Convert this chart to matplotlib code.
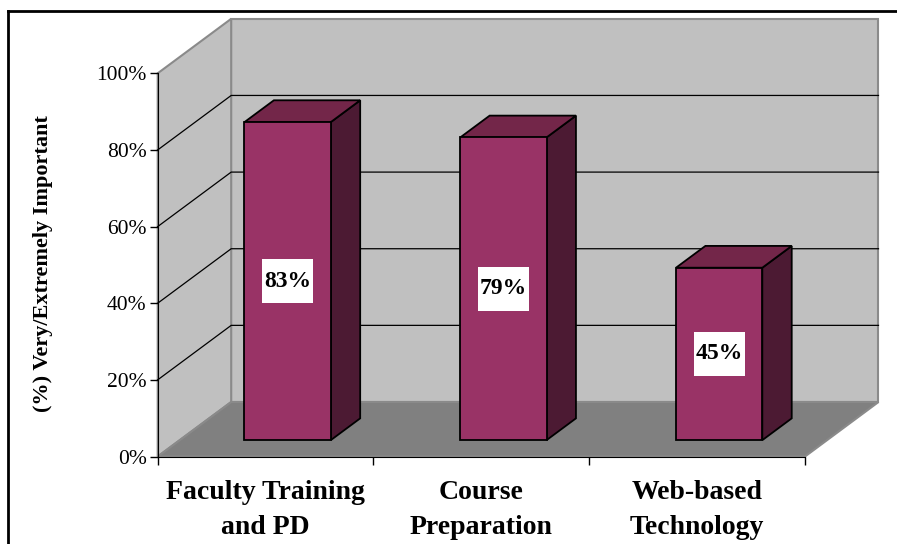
import matplotlib.pyplot as plt
import matplotlib.transforms as mtransforms
from matplotlib.patches import Polygon, Rectangle
from matplotlib.lines import Line2D

# Dados do grafico
categorias = ["Faculty Training\nand PD", "Course\nPreparation", "Web-based\nTechnology"]
valores = [0.83, 0.79, 0.45]
rotulos = ["83%", "79%", "45%"]
ticks_y = [0.0, 0.2, 0.4, 0.6, 0.8, 1.0]
ticks_y_txt = ["0%", "20%", "40%", "60%", "80%", "100%"]
titulo_y = "(%) Very/Extremely Important"

plt.rcParams['font.family'] = ['Liberation Serif', 'DejaVu Serif']

# Cores (estilo Excel 3D)
cor_frente = '#993366'
cor_topo = '#732649'
cor_lado = '#4C1A33'
cor_parede = '#C0C0C0'
cor_chao = '#808080'
cor_borda = '#8A8A8A'

# Deslocamento de profundidade (unidades de dados)
ddx = 0.3406
ddy = 0.1422
larg = 0.40       # largura da barra
d0, dd = 0.30, 0.40  # posicao/profundidade da barra

W, H = 897, 544
fig = plt.figure(figsize=(W / 100, H / 100), dpi=100)
ax = fig.add_axes([157.7 / W, (H - 456.5) / H, (805 - 157.7) / W, 383.2 / H])
ax.set_xlim(0, 3)
ax.set_ylim(0, 1)
ax.patch.set_visible(False)

n = len(valores)

# Paredes e chao
parede_fundo = Polygon([(ddx, ddy), (n + ddx, ddy), (n + ddx, 1 + ddy), (ddx, 1 + ddy)],
                       closed=True, fc=cor_parede, ec=cor_borda, lw=1.5, clip_on=False, zorder=1)
parede_esq = Polygon([(0, 0), (ddx, ddy), (ddx, 1 + ddy), (0, 1)],
                     closed=True, fc=cor_parede, ec=cor_borda, lw=1.5, clip_on=False, zorder=1)
chao = Polygon([(0, 0), (n, 0), (n + ddx, ddy), (ddx, ddy)],
               closed=True, fc=cor_chao, ec=cor_borda, lw=1.5, clip_on=False, zorder=1)
for p in (parede_fundo, parede_esq, chao):
    ax.add_patch(p)

# Linhas de grade
for g in ticks_y[1:-1]:
    ax.plot([0, ddx, n + ddx], [g, g + ddy, g + ddy], color='black', lw=0.9,
            clip_on=False, zorder=2)

# Barras 3D
for i, v in enumerate(valores):
    x0 = i + (1 - larg) / 2 + d0 * ddx
    y0 = d0 * ddy
    ox, oy = dd * ddx, dd * ddy
    frente = Polygon([(x0, y0), (x0 + larg, y0), (x0 + larg, y0 + v), (x0, y0 + v)],
                     closed=True, fc=cor_frente, ec='black', lw=1.3, clip_on=False, zorder=4)
    topo = Polygon([(x0, y0 + v), (x0 + larg, y0 + v), (x0 + larg + ox, y0 + v + oy), (x0 + ox, y0 + v + oy)],
                   closed=True, fc=cor_topo, ec='black', lw=1.3, clip_on=False, zorder=3)
    lado = Polygon([(x0 + larg, y0), (x0 + larg + ox, y0 + oy), (x0 + larg + ox, y0 + v + oy), (x0 + larg, y0 + v)],
                   closed=True, fc=cor_lado, ec='black', lw=1.3, clip_on=False, zorder=3)
    for p in (lado, topo, frente):
        ax.add_patch(p)

    # caixa branca do rotulo (tamanho fixo em polegadas)
    xc, yc = x0 + larg / 2, y0 + v / 2
    trans = fig.dpi_scale_trans + mtransforms.ScaledTranslation(xc, yc, ax.transData)
    ax.add_patch(Rectangle((-0.255, -0.22), 0.51, 0.44, transform=trans,
                           fc='white', ec='none', zorder=5, clip_on=False))
    ax.text(xc, yc, rotulos[i], ha='center', va='center',
            fontsize=17, fontweight='bold', zorder=6)

# Eixos
for lado_sp in ('top', 'right'):
    ax.spines[lado_sp].set_visible(False)
ax.spines['left'].set_color('black')
ax.spines['bottom'].set_color('black')
ax.spines['left'].set_zorder(7)
ax.spines['bottom'].set_zorder(7)

ax.set_yticks(ticks_y)
ax.set_yticklabels(ticks_y_txt, fontsize=15.5)
ax.tick_params(axis='y', direction='out', length=5.5, width=1, pad=2.5)

ax.set_xticks(range(n + 1))
ax.set_xticklabels([])
ax.set_xticks([i + 0.5 for i in range(n)], minor=True)
ax.set_xticklabels(categorias, minor=True, fontsize=20, fontweight='bold', linespacing=1.5)
ax.tick_params(axis='x', which='minor', length=0, pad=17)
ax.tick_params(axis='x', which='major', direction='out', length=5.5, width=1)

fig.text(43 / W, 1 - 264 / H, titulo_y, rotation=90, ha='center', va='center',
         fontsize=16, fontweight='bold')

# Moldura externa
fig.add_artist(Line2D([8 / W, 8 / W], [0, 1 - 11 / H], color='black', lw=2))
fig.add_artist(Line2D([8 / W, 1], [1 - 11 / H, 1 - 11 / H], color='black', lw=2))

plt.savefig("out.png", dpi=100)
